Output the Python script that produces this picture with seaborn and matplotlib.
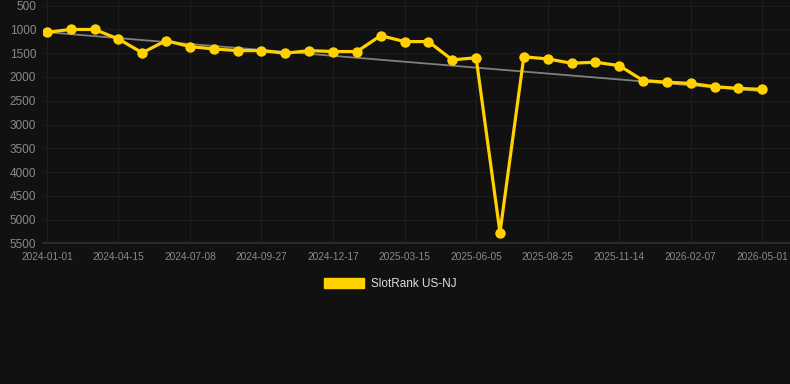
import numpy as np
import pandas as pd
import matplotlib
matplotlib.use("Agg")
import matplotlib.pyplot as plt
import seaborn as sns
from matplotlib.patches import Patch

# podaci ocitani sa slike (rang, manji je bolji)
rang = [1060, 1000, 1000, 1200, 1490, 1235, 1360, 1410, 1445, 1445,
        1500, 1445, 1465, 1465, 1130, 1255, 1255, 1640, 1595, 5275,
        1575, 1620, 1710, 1690, 1760, 2075, 2110, 2135, 2205, 2240, 2260]
tick_labels = ["2024-01-01", "2024-04-15", "2024-07-08", "2024-09-27",
               "2024-12-17", "2025-03-15", "2025-06-05", "2025-08-25",
               "2025-11-14", "2026-02-07", "2026-05-01"]
y_ticks = [500, 1000, 1500, 2000, 2500, 3000, 3500, 4000, 4500, 5000, 5500]
serija = "SlotRank US-NJ"

BG = "#111111"
ZUTA = "#ffd100"
GRID = "#1d1d1d"
TXT = "#8a8a8a"

df = pd.DataFrame({"tacka": np.arange(len(rang)), "rang": rang})

sns.set_theme(style="dark")
plt.rcParams["font.family"] = ["Liberation Sans", "DejaVu Sans"]

fig = plt.figure(figsize=(7.9, 3.84), dpi=100, facecolor=BG)
ax = fig.add_axes([43 / 790, 1 - 243.3 / 384, 1 - 43 / 790, 243.3 / 384])
ax.set_facecolor(BG)

# linija trenda (linearna regresija)
k, n = np.polyfit(df["tacka"], df["rang"], 1)
ax.plot(df["tacka"], k * df["tacka"] + n, color="#808080", lw=1.3, zorder=2)

sns.lineplot(data=df, x="tacka", y="rang", color=ZUTA, lw=2.3, marker="o",
             markersize=7.5, markeredgewidth=0, ax=ax, zorder=3,
             solid_joinstyle="miter")

n_int = len(tick_labels) - 1
step = (len(rang) - 1) / n_int
ax.set_xticks([i * step for i in range(len(tick_labels))])
ax.set_xticklabels(tick_labels)
ax.set_yticks(y_ticks)
ax.set_xlim(-0.16, len(rang) - 1 + 1.16)
ax.set_ylim(5500, 380)

ax.grid(True, color=GRID, lw=0.8)
for s in ["top", "right", "left"]:
    ax.spines[s].set_visible(False)
ax.spines["bottom"].set_color("#2e2e2e")
ax.tick_params(axis="x", colors=TXT, labelsize=7.3, length=0, pad=6)
ax.tick_params(axis="y", colors=TXT, labelsize=8.5, length=0, pad=5)
ax.set_xlabel("")
ax.set_ylabel("")

fig.legend(handles=[Patch(facecolor=ZUTA, edgecolor=ZUTA, label=serija)],
           loc="center", bbox_to_anchor=(390 / 790, 1 - 284 / 384),
           frameon=False, fontsize=8.5, labelcolor="#dddddd",
           handlelength=3.4, handleheight=0.95, handletextpad=0.6)

fig.savefig("out.png", dpi=100, facecolor=BG)
